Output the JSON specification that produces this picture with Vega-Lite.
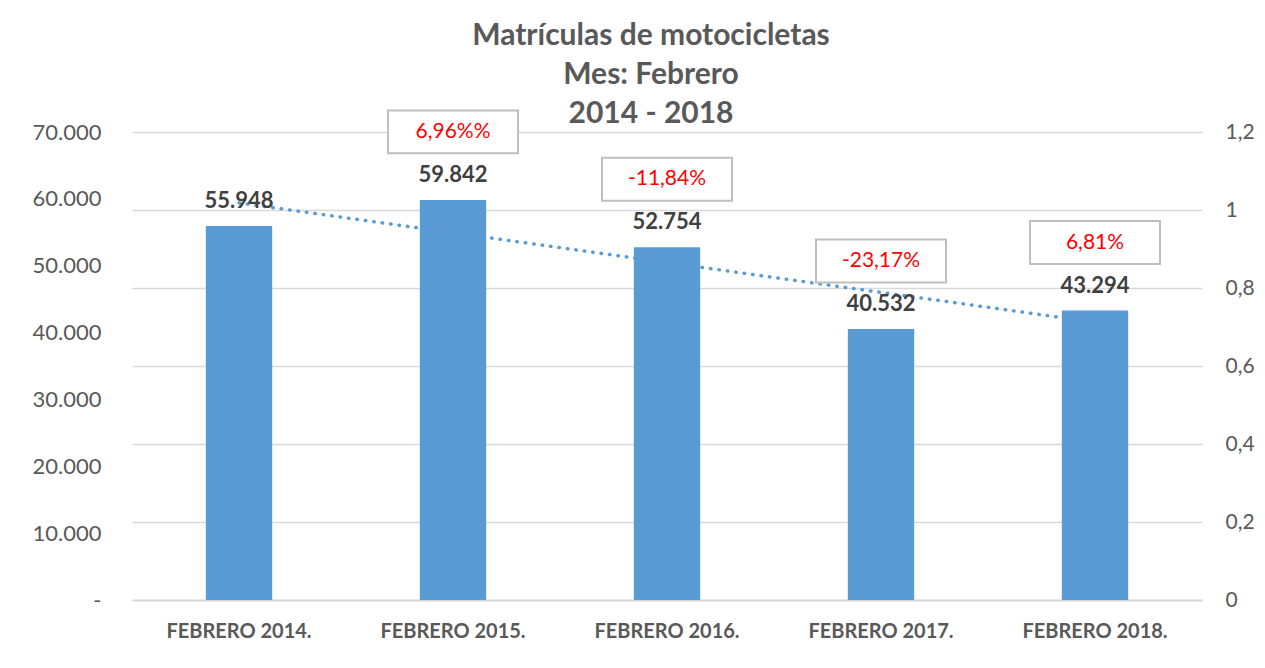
{
  "$schema": "https://vega.github.io/schema/vega-lite/v6.json",
  "width": 1070,
  "height": 468,
  "autosize": "none",
  "padding": {"left": 132, "top": 132, "right": 63, "bottom": 68},
  "background": "white",
  "title": {
    "text": ["Matrículas de motocicletas", "Mes: Febrero", "2014 - 2018"],
    "fontSize": 30, "fontWeight": "bold", "color": "#595959",
    "lineHeight": 39, "offset": 8, "anchor": "middle", "dx": -16, "dy": 31
  },
  "data": {
    "values": [
      {"mes": "FEBRERO 2014.", "valor": 55948, "tendencia": 59398, "var": null},
      {"mes": "FEBRERO 2015.", "valor": 59842, "tendencia": 54936, "var": "6,96%%"},
      {"mes": "FEBRERO 2016.", "valor": 52754, "tendencia": 50474, "var": "-11,84%"},
      {"mes": "FEBRERO 2017.", "valor": 40532, "tendencia": 46012, "var": "-23,17%"},
      {"mes": "FEBRERO 2018.", "valor": 43294, "tendencia": 41550, "var": "6,81%"}
    ]
  },
  "layer": [
    {
      "layer": [
        {
          "mark": {"type": "bar", "color": "#5b9bd5"},
          "encoding": {
            "x": {
              "field": "mes", "type": "nominal", "sort": null,
              "scale": {"paddingInner": 0.69, "paddingOuter": 0.345},
              "axis": {
                "title": null, "labelAngle": 0, "labelFontSize": 20, "labelFontWeight": "bold",
                "labelColor": "#595959", "ticks": false, "domainColor": "#d9d9d9", "domainWidth": 2,
                "labelPadding": 21
              }
            },
            "y": {
              "field": "valor", "type": "quantitative",
              "scale": {"domain": [0, 70000]},
              "axis": {
                "title": null, "grid": false, "domain": false, "ticks": false,
                "values": [0, 10000, 20000, 30000, 40000, 50000, 60000, 70000],
                "format": ",d", "labelExpr": "datum.value == 0 ? '-' : datum.label",
                "labelFontSize": 22, "labelColor": "#595959", "labelPadding": 31
              }
            }
          }
        },
        {
          "mark": {"type": "line", "color": "#5b9bd5", "strokeWidth": 3.5, "strokeDash": [0.5, 8], "strokeCap": "round"},
          "encoding": {
            "x": {"field": "mes", "type": "nominal", "sort": null},
            "y": {"field": "tendencia", "type": "quantitative"}
          }
        },
        {
          "mark": {"type": "text", "dy": -25, "baseline": "middle", "fontSize": 22, "fontWeight": "bold", "color": "#404040"},
          "encoding": {
            "x": {"field": "mes", "type": "nominal", "sort": null},
            "y": {"field": "valor", "type": "quantitative"},
            "text": {"field": "valor", "type": "quantitative", "format": ",d"}
          }
        },
        {
          "transform": [{"filter": "datum.var != null"}],
          "mark": {
            "type": "point", "shape": "M-1,-0.33L1,-0.33L1,0.33L-1,0.33Z", "size": 16900,
            "filled": false, "fill": "white", "fillOpacity": 1, "stroke": "#bfbfbf", "strokeWidth": 2,
            "opacity": 1, "yOffset": -68
          },
          "encoding": {
            "x": {"field": "mes", "type": "nominal", "sort": null},
            "y": {"field": "valor", "type": "quantitative"}
          }
        },
        {
          "transform": [{"filter": "datum.var != null"}],
          "mark": {"type": "text", "yOffset": -68, "baseline": "middle", "fontSize": 21, "color": "#ff0000"},
          "encoding": {
            "x": {"field": "mes", "type": "nominal", "sort": null},
            "y": {"field": "valor", "type": "quantitative"},
            "text": {"field": "var", "type": "nominal"}
          }
        }
      ]
    },
    {
      "mark": {"type": "point", "opacity": 0},
      "encoding": {
        "y": {
          "datum": 0, "type": "quantitative",
          "scale": {"domain": [0, 1.2]},
          "axis": {
            "orient": "right", "title": null, "grid": true, "gridColor": "#d9d9d9", "gridWidth": 1.5,
            "domain": false, "ticks": false, "values": [0, 0.2, 0.4, 0.6, 0.8, 1, 1.2],
            "format": ".1~f", "labelFontSize": 21, "labelColor": "#595959", "labelPadding": 23
          }
        }
      }
    }
  ],
  "resolve": {"scale": {"y": "independent"}},
  "config": {
    "font": "Lato",
    "view": {"stroke": null},
    "locale": {"number": {"decimal": ",", "thousands": ".", "grouping": [3], "currency": ["", " €"]}}
  }
}
